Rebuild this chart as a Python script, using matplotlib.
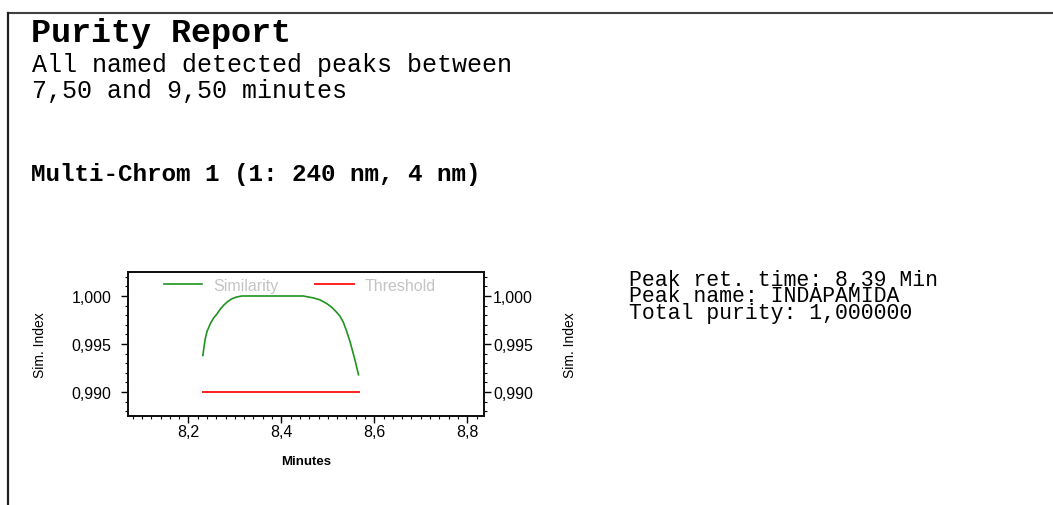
import numpy as np
import matplotlib
matplotlib.use("Agg")
import matplotlib.pyplot as plt
from matplotlib.lines import Line2D
from matplotlib.ticker import MultipleLocator, FixedLocator, FixedFormatter

# similarity curve across the peak (minutes, similarity index)
sim_time = [8.231, 8.233, 8.236, 8.240, 8.247, 8.254, 8.261, 8.268, 8.275,
            8.284, 8.293, 8.304, 8.315, 8.447, 8.458, 8.469, 8.483, 8.498,
            8.509, 8.519, 8.526, 8.533, 8.540, 8.548, 8.553, 8.558, 8.566]
sim_value = [0.9938, 0.9945, 0.9955, 0.9963, 0.9971, 0.9977, 0.9981, 0.9986, 0.9990,
             0.9994, 0.9997, 0.9999, 1.0000, 1.0000, 0.9999, 0.9998, 0.9996, 0.9992,
             0.9988, 0.9983, 0.9979, 0.9973, 0.9964, 0.9952, 0.9943, 0.9934, 0.9918]

# purity threshold over the same range
thr_time = [8.231, 8.566]
thr_value = [0.990, 0.990]

x_ticks = [8.2, 8.4, 8.6, 8.8]
x_labels = ["8,2", "8,4", "8,6", "8,8"]
y_ticks = [0.990, 0.995, 1.000]
y_labels = ["0,990", "0,995", "1,000"]

title = "Purity Report"
subtitle = ["All named detected peaks between", "7,50 and 9,50 minutes"]
channel = "Multi-Chrom 1 (1: 240 nm, 4 nm)"
peak_info = ["Peak ret. time: 8,39 Min", "Peak name: INDAPAMIDA", "Total purity: 1,000000"]

W, H = 1053, 506
MONO = "Liberation Mono"
SANS = "Liberation Sans"


def fx(px):
    return px / W


def fy(py):
    return 1 - py / H


fig = plt.figure(figsize=(W / 100, H / 100), dpi=100)
fig.patch.set_facecolor("white")

# page frame (top and left edges)
fig.add_artist(Line2D([fx(7.5), 1.0], [fy(14), fy(14)], color="#404040", lw=1.5))
fig.add_artist(Line2D([fx(7.5), fx(7.5)], [fy(14), 0.0], color="#202020", lw=1.6))

# header text
fig.text(fx(31), fy(42), title, family=MONO, weight="bold", fontsize=24, va="baseline")
fig.text(fx(32), fy(98), "\n".join(subtitle), family=MONO, fontsize=18,
         va="baseline", linespacing=1.13)
fig.text(fx(31), fy(181), channel, family=MONO, weight="bold", fontsize=17.5, va="baseline")
# peak summary, tightly spaced block
fig.text(fx(629), fy(319), "\n".join(peak_info), family=MONO, fontsize=15.5,
         va="baseline", linespacing=0.72)

# similarity plot
ax = fig.add_axes([fx(128), 1 - 417 / H, (484 - 128) / W, (417 - 273) / H])
ax.plot(sim_time, sim_value, color="#1f941f", lw=1.2, label="Similarity")
ax.plot(thr_time, thr_value, color="#ff2020", lw=1.4, label="Threshold")
ax.set_xlim(8.07, 8.836)
ax.set_ylim(0.9875, 1.0025)

ax.xaxis.set_major_locator(FixedLocator(x_ticks))
ax.xaxis.set_major_formatter(FixedFormatter(x_labels))
ax.xaxis.set_minor_locator(MultipleLocator(0.02))
ax.yaxis.set_major_locator(FixedLocator(y_ticks))
ax.yaxis.set_major_formatter(FixedFormatter(y_labels))
ax.yaxis.set_minor_locator(MultipleLocator(0.001))

for s in ax.spines.values():
    s.set_linewidth(1.3)
    s.set_color("#101010")

ax.tick_params(which="major", direction="out", length=5, width=1.0, labelsize=11.5)
ax.tick_params(which="minor", direction="out", length=2.5, width=0.8)
ax.tick_params(axis="x", which="major", pad=1)
ax.tick_params(axis="y", which="major", pad=7)
for lab in ax.get_xticklabels() + ax.get_yticklabels():
    lab.set_family(SANS)

ax.set_xlabel("Minutes", family=SANS, weight="bold", fontsize=9.5, va="top")
ax.xaxis.set_label_coords(0.5, (417 - 456) / 144)
ax.set_ylabel("Sim. Index", family=SANS, fontsize=10)
ax.yaxis.set_label_coords((47 - 128) / 356, 0.5)

# right-hand axis repeats the similarity scale
ax2 = ax.twinx()
ax2.set_ylim(ax.get_ylim())
ax2.yaxis.set_major_locator(FixedLocator(y_ticks))
ax2.yaxis.set_major_formatter(FixedFormatter(y_labels))
ax2.yaxis.set_minor_locator(MultipleLocator(0.001))
ax2.tick_params(which="major", direction="out", length=5, width=1.0, labelsize=11.5, pad=1.5)
ax2.tick_params(which="minor", direction="out", length=2.5, width=0.8)
for lab in ax2.get_yticklabels():
    lab.set_family(SANS)
for s in ax2.spines.values():
    s.set_linewidth(1.3)
    s.set_color("#101010")
ax2.set_ylabel("Sim. Index", family=SANS, fontsize=10)
ax2.yaxis.set_label_coords((563 - 128) / 356, 0.5)

leg = ax.legend(loc="upper left", bbox_to_anchor=((163 - 128) / 356 - 0.013, 1.0),
                ncol=2, frameon=False, handlelength=2.4,
                handletextpad=0.7, columnspacing=2.3, borderpad=0.35,
                borderaxespad=0.0, labelcolor="#c4c4c4", prop={"family": SANS, "size": 11.5})

fig.savefig("out.png", dpi=100, facecolor="white")
